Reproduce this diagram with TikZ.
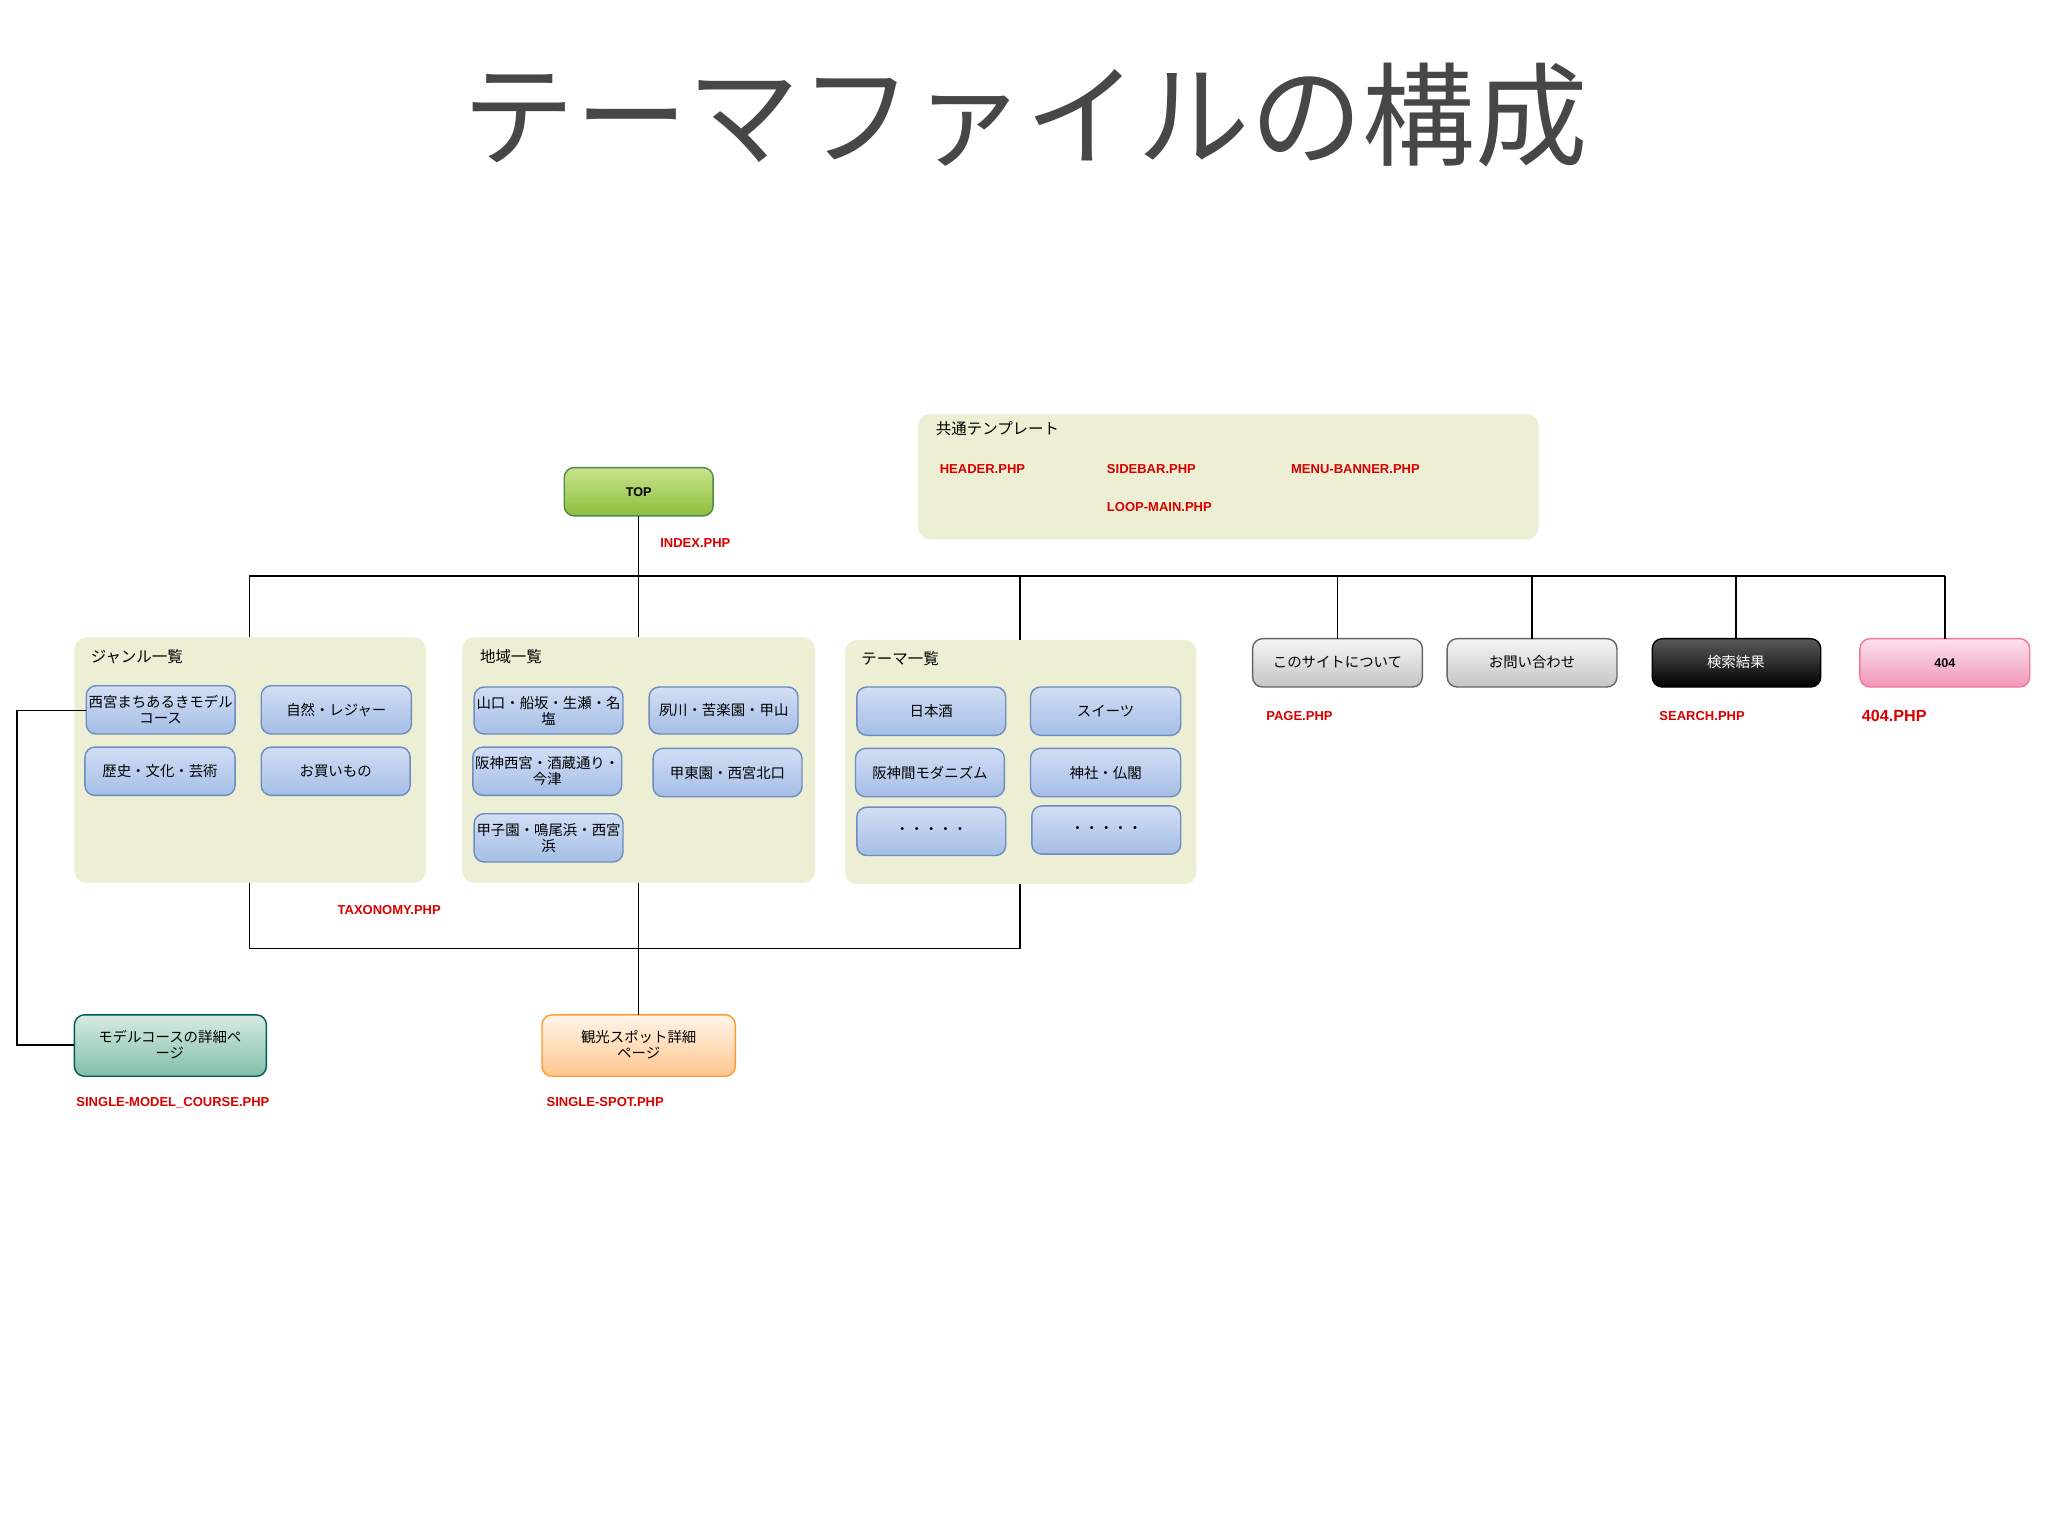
\documentclass[tikz,border=0pt]{standalone}
\usepackage{fontspec}
\setmainfont{Noto Sans CJK JP}
\newfontfamily\lab{Liberation Sans}
\begin{document}
\begin{tikzpicture}[x=0.01306cm,y=-0.01306cm,
 item/.style={draw=itb,top color=itt,bottom color=itd,rounded corners=1mm,line width=0.4pt},
 txt/.style={font=\fontsize{4.1pt}{4.6pt}\selectfont,align=center},
 red/.style={font=\lab\bfseries\fontsize{3.7pt}{4pt}\selectfont,text=red!85!black,anchor=west,inner sep=0},
 gcap/.style={font=\fontsize{4.4pt}{5pt}\selectfont,anchor=west,inner sep=0},
 ln/.style={line width=0.4pt}]
\definecolor{grpc}{RGB}{236,239,212}
\definecolor{itt}{RGB}{210,222,245}
\definecolor{itd}{RGB}{165,190,230}
\definecolor{itb}{RGB}{110,140,190}
\useasboundingbox (0,0) rectangle (1568,1176);
\fill[white] (0,0) rectangle (1568,1176);
\node[font=\fontsize{32pt}{36pt}\selectfont,text=black!72] (title) at (785,88) {テーマファイルの構成};
% groups
\fill[grpc,rounded corners=1.2mm] (703,317) rectangle (1178,413);
\node[gcap] (c0) at (716,328) {共通テンプレート};
\node[red] (h) at (719,359) {HEADER.PHP};
\node[red] (s) at (847,359) {SIDEBAR.PHP};
\node[red] (m) at (988,359) {MENU-BANNER.PHP};
\node[red] (l) at (847,388) {LOOP-MAIN.PHP};
\fill[grpc,rounded corners=1.2mm] (57,488) rectangle (326,676);
\fill[grpc,rounded corners=1.2mm] (354,488) rectangle (624,676);
\fill[grpc,rounded corners=1.2mm] (647,490) rectangle (916,677);
\coordinate (gT) at (191,488); \coordinate (gB) at (191,676);
\coordinate (rT) at (489,488); \coordinate (rB) at (489,676);
\coordinate (tT) at (781,490); \coordinate (tB) at (781,677);
\node[gcap] (g0) at (69,503) {ジャンル一覧};
\node[gcap] (r0) at (367,503) {地域一覧};
\node[gcap] (t0) at (659,504) {テーマ一覧};
% top
\definecolor{gt}{RGB}{200,228,140}\definecolor{gb}{RGB}{140,190,60}
\draw[draw=green!35!black!70,top color=gt,bottom color=gb,rounded corners=1mm,line width=0.4pt] (432,358) rectangle (546,395);
\node[font=\lab\bfseries\fontsize{3.6pt}{4pt}\selectfont] (top) at (489,377) {TOP};
\coordinate (topB) at (489,395);
\node[red] (ix) at (505,416) {INDEX.PHP};
% items
\newcommand\itm[5]{\draw[item] (#1,#2) rectangle (#3,#4); \node[txt] at ({(#1+#3)/2},{(#2+#4)/2}) {#5};}
\itm{66}{525}{180}{562}{西宮まちあるきモデル\\コース}
\itm{200}{525}{315}{562}{自然・レジャー}
\itm{65}{572}{180}{609}{歴史・文化・芸術}
\itm{200}{572}{314}{609}{お買いもの}
\itm{363}{526}{477}{562}{山口・船坂・生瀬・名\\塩}
\itm{497}{526}{611}{562}{夙川・苦楽園・甲山}
\itm{362}{572}{476}{609}{阪神西宮・酒蔵通り・\\今津}
\itm{500}{573}{614}{610}{甲東園・西宮北口}
\itm{363}{623}{477}{660}{甲子園・鳴尾浜・西宮\\浜}
\itm{656}{526}{770}{563}{日本酒}
\itm{789}{526}{904}{563}{スイーツ}
\itm{655}{573}{769}{610}{阪神間モダニズム}
\itm{789}{573}{904}{610}{神社・仏閣}
\itm{656}{618}{770}{655}{・・・・・}
\itm{790}{617}{904}{654}{・・・・・}
\coordinate (it1) at (66,544);
% right boxes
\draw[draw=gray!80!black,top color=gray!8,bottom color=gray!45,rounded corners=1mm] (959,489) rectangle (1089,526);
\node[txt] (p1) at (1024,507) {このサイトについて};
\draw[draw=gray!80!black,top color=gray!8,bottom color=gray!45,rounded corners=1mm] (1108,489) rectangle (1238,526);
\node[txt] (p2) at (1173,507) {お問い合わせ};
\draw[draw=black,top color=gray!70!black,bottom color=black,rounded corners=1mm] (1265,489) rectangle (1394,526);
\node[txt,text=white] (p3) at (1329,507) {検索結果};
\definecolor{pt}{RGB}{252,225,235}\definecolor{pb}{RGB}{240,150,185}
\draw[draw=pb!80!red,top color=pt,bottom color=pb,rounded corners=1mm] (1424,489) rectangle (1554,526);
\node[font=\lab\bfseries\fontsize{3.6pt}{4pt}\selectfont] (p4) at (1489,508) {404};
\node[red] (pg) at (969,548) {PAGE.PHP};
\node[red] (sr) at (1270,548) {SEARCH.PHP};
\node[red,font=\lab\bfseries\fontsize{4.6pt}{5pt}\selectfont] (nf) at (1425,548) {404.PHP};
\node[red] (tx) at (258,697) {TAXONOMY.PHP};
% lower boxes
\definecolor{mt}{RGB}{215,235,225}\definecolor{mb}{RGB}{130,190,170}
\draw[draw=teal!70!black,top color=mt,bottom color=mb,rounded corners=1mm] (57,777) rectangle (204,824);
\node[txt] (mc) at (130,800) {モデルコースの詳細ペ\\ージ};
\draw[draw=orange!80,top color=orange!8,bottom color=orange!45!white,rounded corners=1mm] (415,777) rectangle (563,824);
\node[txt] (sp) at (489,800) {観光スポット詳細\\ページ};
\node[red] (smc) at (58,844) {SINGLE-MODEL\_COURSE.PHP};
\node[red] (ssp) at (418,844) {SINGLE-SPOT.PHP};
% connectors
\draw[ln] (topB) -- (489,441);
\draw[ln] (191,441) -- (1489,441);
\draw[ln] (191,441) -- (gT);
\draw[ln] (489,441) -- (rT);
\draw[ln] (781,441) -- (tT);
\draw[ln] (1024,441) -- (1024,489);
\draw[ln] (1173,441) -- (1173,489);
\draw[ln] (1329,441) -- (1329,489);
\draw[ln] (1489,441) -- (1489,489);
\draw[ln] (gB) -- (191,726) -- (781,726) -- (tB);
\draw[ln] (rB) -- (489,777);
\draw[ln] (it1) -- (13,544) -- (13,800) -- (57,800);
\end{tikzpicture}
\end{document}
